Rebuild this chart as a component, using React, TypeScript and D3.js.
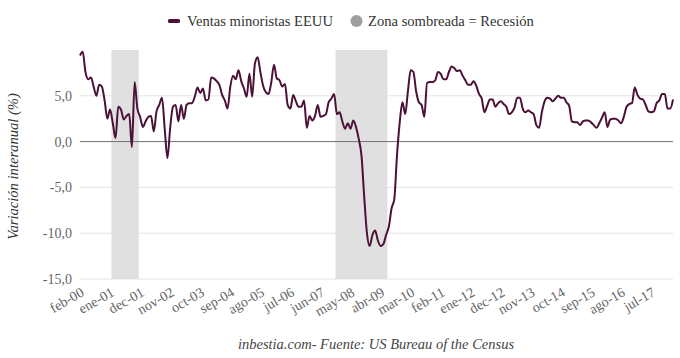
import React from "react";
import * as d3 from "d3";

const monthNames = ["ene", "feb", "mar", "abr", "may", "jun", "jul", "ago", "sep", "oct", "nov", "dec"];
const startYear = 2000;
const startMonth = 1; // feb

// Variación interanual (%) de las ventas minoristas EEUU, feb-00 .. mar-18
const retailYoY: number[] = [
  9.4, 9.8, 7.6, 6.8, 7.0, 6.0, 5.0, 6.2, 6.0, 4.5,
  2.5, 3.5, 2.0, 0.4, 3.8, 3.5, 2.4, 2.8, 3.0, -0.6,
  6.5, 3.6, 2.7, 1.6, 2.2, 2.7, 2.8, 1.1, 3.3, 4.0,
  4.8, 1.4, -1.8, 1.5, 3.8, 4.0, 2.2, 4.0, 2.5, 4.0,
  4.2, 4.2, 4.9, 5.9, 5.3, 5.8, 4.5, 4.6, 7.0, 6.9,
  6.6, 6.2, 5.1, 4.5, 3.6, 6.0, 7.2, 6.8, 7.8, 6.6,
  5.8, 4.9, 7.4, 4.9, 8.5, 9.2, 7.6, 6.1, 5.4, 5.2,
  6.5, 8.4, 6.9, 6.7, 6.0, 6.3, 4.0, 3.6, 5.1, 4.4,
  3.8, 3.8, 4.5, 1.5, 2.8, 2.3, 2.8, 4.0, 2.7, 2.8,
  3.0, 4.3, 4.7, 5.2, 3.0, 3.2, 2.2, 1.4, 2.0, 1.4,
  2.3, 1.6, 0.3, -1.5, -6.0, -10.0, -11.4, -10.2, -9.7, -10.8,
  -11.4, -11.2, -10.2, -9.3, -7.3, -6.3, -1.5, 2.1, 4.3, 3.0,
  5.5, 7.8, 7.6, 5.5, 4.3, 4.0, 2.7, 6.4, 6.5, 6.5,
  6.7, 7.6, 7.4, 6.8, 6.8, 7.6, 8.2, 8.0, 7.7, 7.8,
  7.2, 6.7, 6.2, 6.2, 6.6, 6.1, 5.2, 4.7, 3.2, 3.9,
  4.6, 4.6, 3.8, 4.2, 4.4, 4.1, 3.8, 3.0, 3.2, 3.7,
  4.8, 4.8, 3.6, 3.2, 3.4, 3.2, 3.0, 1.8, 1.5, 3.2,
  4.4, 4.8, 4.7, 4.4, 4.7, 5.0, 4.8, 4.8, 4.3, 3.9,
  2.2, 2.1, 2.1, 1.8, 2.2, 2.3, 2.3, 2.1, 1.8, 1.5,
  2.0, 2.6, 3.2, 1.6, 2.4, 2.5, 2.5, 2.3, 2.0, 2.7,
  3.8, 4.1, 4.2, 5.9, 5.1, 4.7, 4.6, 4.0, 3.3, 3.2,
  3.3, 4.2, 4.5, 5.2, 5.2, 3.6, 3.6, 4.6,
];

// recession zones, as [first, last] month index
const recessions: [number, number][] = [
  [12, 21],
  [94, 112],
];

const yTicks = [-15, -10, -5, 0, 5];
const tickEvery = 11;

const seriesName = "Ventas minoristas EEUU";
const shadeName = "Zona sombreada = Recesión";
const yTitle = "Variación interanual (%)";
const credit = "inbestia.com- Fuente: US Bureau of the Census";

const categories = retailYoY.map((_, i) => {
  const m = startMonth + i;
  const yr = startYear + Math.floor(m / 12);
  return `${monthNames[m % 12]}-${String(yr % 100).padStart(2, "0")}`;
});

const W = 680;
const H = 358;
const left = 80;
const right = 673;
const top = 50;
const bottom = 279;
const FONT = '"Liberation Serif", "DejaVu Serif", "Noto Serif", Tinos, Times, "Times New Roman", serif';
const LINE = "#4b1136";

export default function App() {
  const x = d3.scaleLinear().domain([0, retailYoY.length - 1]).range([left, right]);
  const y = d3.scaleLinear().domain([-15, 10]).range([bottom, top]);
  const line = d3
    .line<number>()
    .x((_, i) => x(i))
    .y((d) => y(d))
    .curve(d3.curveMonotoneX);

  const fmt = (v: number) => v.toFixed(1).replace(".", ",");
  const tickIdx = d3.range(0, categories.length, tickEvery);
  const ts = { fontFamily: FONT };

  return (
    <svg
      width={W}
      height={H}
      style={{ position: "absolute", left: 0, top: 0, background: "#fff", fontFamily: FONT }}
    >
      <rect width={W} height={H} fill="#fff" />
      {yTicks
        .filter((t) => t !== 0)
        .map((t) => (
          <line key={t} x1={left} x2={right} y1={y(t)} y2={y(t)} stroke="#e3e3e3" strokeWidth={1} />
        ))}
      {recessions.map(([a, b], k) => (
        <rect
          key={k}
          x={x(a - 0.5)}
          width={x(b + 0.5) - x(a - 0.5)}
          y={y(10)}
          height={y(-15) - y(10)}
          fill="#e0e0e0"
        />
      ))}
      <line x1={left} x2={right} y1={y(0)} y2={y(0)} stroke="#707070" strokeWidth={1} />
      {yTicks.map((t) => (
        <text key={t} x={72} y={y(t) + 5} textAnchor="end" fontSize={14} fill="#666" style={ts}>
          {fmt(t)}
        </text>
      ))}
      {tickIdx.map((i) => {
        const tx = x(i) + 5;
        const ty = 295;
        return (
          <text
            key={i}
            x={tx}
            y={ty}
            textAnchor="end"
            fontSize={14}
            fill="#666"
            style={ts}
            transform={`rotate(-30, ${tx}, ${ty})`}
          >
            {categories[i]}
          </text>
        );
      })}
      <path d={line(retailYoY) || ""} fill="none" stroke={LINE} strokeWidth={2} strokeLinejoin="round" />
      <text
        transform={`translate(18, ${(top + bottom) / 2 + 2}) rotate(-90)`}
        textAnchor="middle"
        fontSize={14.6}
        fontStyle="italic"
        fill="#333"
        style={ts}
      >
        {yTitle}
      </text>
      <rect x={168} y={19} width={12} height={4} rx={1.5} fill={LINE} />
      <text x={187} y={26} fontSize={14.6} fill="#333" style={ts}>
        {seriesName}
      </text>
      <circle cx={356.5} cy={21} r={6} fill="#9e9e9e" />
      <text x={368} y={26} fontSize={14.6} fill="#333" style={ts}>
        {shadeName}
      </text>
      <text x={376} y={349} textAnchor="middle" fontSize={14.5} fontStyle="italic" fill="#444" style={ts}>
        {credit}
      </text>
    </svg>
  );
}
